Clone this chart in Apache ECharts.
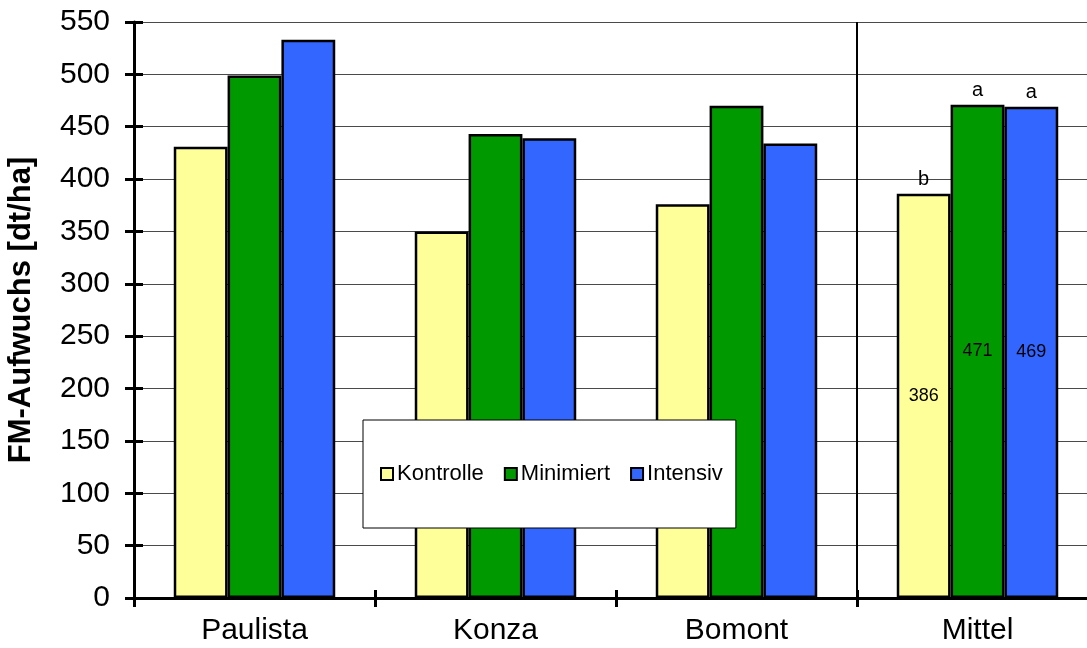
<!DOCTYPE html>
<html>
<head>
<meta charset="utf-8">
<script src="https://cdn.jsdelivr.net/npm/echarts@6/dist/echarts.min.js"></script>
<style>
  html, body { margin: 0; padding: 0; background: #fff; }
  #chart { width: 1087px; height: 648px; }
</style>
</head>
<body>
<div id="chart"></div>
<script>
// Yield (fresh mass) per site and treatment, plus the mean over sites
const categories = ['Paulista', 'Konza', 'Bomont', 'Mittel'];
const kontrolle = [431, 350, 376, 386];
const minimiert = [499, 443, 470, 471];
const intensiv  = [533, 439, 434, 469];
// Significance letters for the mean group
const letters = { Kontrolle: 'b', Minimiert: 'a', Intensiv: 'a' };
const meanIndex = 3;

const FONT = 'Liberation Sans, Arial, sans-serif';

function makeSeries(name, values, color) {
  return {
    name: name,
    type: 'bar',
    barGap: '0%',
    barCategoryGap: '33%',
    itemStyle: { color: color, borderColor: '#000', borderWidth: 2.5 },
    data: values.map((v, i) => i === meanIndex ? {
      value: v,
      label: {
        show: true, position: 'inside', color: '#000',
        fontFamily: FONT, fontSize: 18
      }
    } : v),
    markPoint: {
      symbol: 'rect',
      symbolSize: 0,
      silent: true,
      label: {
        show: true, position: 'top', distance: 4, formatter: '{b}',
        color: '#000', fontFamily: FONT, fontSize: 20
      },
      data: [{ name: letters[name], coord: [categories[meanIndex], values[meanIndex]] }]
    }
  };
}

const chart = echarts.init(document.getElementById('chart'), null, { renderer: 'canvas' });

chart.setOption({
  animation: false,
  backgroundColor: '#fff',
  grid: { left: 134, top: 22, right: -11, bottom: 50, outerBoundsMode: 'none' },
  legend: {
    left: 363, top: 420,
    backgroundColor: '#fff',
    borderColor: '#000', borderWidth: 1, borderRadius: 0,
    padding: [43, 13, 43, 17],
    itemWidth: 12, itemHeight: 12, itemGap: 20,
    icon: 'rect',
    itemStyle: { borderColor: '#000', borderWidth: 2 },
    textStyle: { fontFamily: FONT, fontSize: 22, color: '#000', padding: [0, 0, 0, -1] },
    data: ['Kontrolle', 'Minimiert', 'Intensiv']
  },
  xAxis: [{
    type: 'category',
    data: categories,
    axisLine: { show: true, lineStyle: { color: '#000', width: 3 } },
    axisTick: { show: true, length: 9, lineStyle: { color: '#000', width: 3 } },
    axisLabel: { color: '#000', fontFamily: FONT, fontSize: 30, margin: 18 },
    splitLine: { show: false }
  }, {
    type: 'category',
    data: categories,
    position: 'bottom',
    axisLine: { show: false },
    axisTick: { show: true, inside: true, length: 8, lineStyle: { color: '#000', width: 3 } },
    axisLabel: { show: false },
    splitLine: { show: false }
  }, {
    // hidden helper axis measured in category units, used for the separator line
    type: 'value',
    min: 0, max: categories.length,
    show: false
  }],
  yAxis: [{
    type: 'value',
    min: 0, max: 550, interval: 50,
    name: 'FM-Aufwuchs [dt/ha]',
    nameLocation: 'middle',
    nameGap: 97,
    nameTextStyle: { color: '#000', fontFamily: FONT, fontSize: 31, fontWeight: 'bold' },
    axisLine: { show: true, lineStyle: { color: '#000', width: 3 } },
    axisTick: { show: true, length: 9, lineStyle: { color: '#000', width: 3 } },
    axisLabel: { color: '#000', fontFamily: FONT, fontSize: 30, margin: 24 },
    splitLine: { show: true, lineStyle: { color: '#4a4a4a', width: 1 } }
  }, {
    type: 'value',
    min: 0, max: 550, interval: 50,
    position: 'left',
    axisLine: { show: false },
    axisTick: { show: true, inside: true, length: 9, lineStyle: { color: '#000', width: 3 } },
    axisLabel: { show: false },
    splitLine: { show: false }
  }],
  series: [
    makeSeries('Kontrolle', kontrolle, '#FFFF99'),
    makeSeries('Minimiert', minimiert, '#009900'),
    makeSeries('Intensiv', intensiv, '#3366FF'),
    {
      // separator between the sites and the mean group
      type: 'line',
      xAxisIndex: 2,
      data: [],
      silent: true,
      markLine: {
        silent: true,
        symbol: 'none',
        label: { show: false },
        lineStyle: { color: '#000', width: 2, type: 'solid' },
        data: [{ xAxis: meanIndex }]
      }
    }
  ]
});
</script>
</body>
</html>
